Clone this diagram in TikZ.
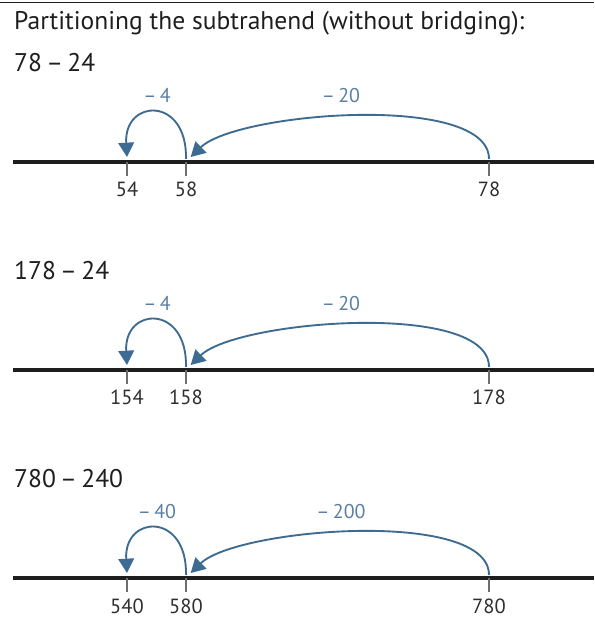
\documentclass[tikz,border=0pt]{standalone}
\usepackage{fontspec}
\setmainfont{PT Sans}
\usetikzlibrary{arrows.meta}
\definecolor{ink}{HTML}{1E1E1E}
\definecolor{jumpblue}{HTML}{3D6B91}
\definecolor{jumptext}{HTML}{5A7FA2}
\definecolor{tickgray}{HTML}{6E6E6E}
\definecolor{numgray}{HTML}{2E2E2E}

\begin{document}
\begin{tikzpicture}[
  numberline/.style={draw=ink,line width=2.7pt},
  tickmark/.style={draw=tickgray,line width=1.1pt},
  jump/.style={draw=jumpblue,line width=1.6pt,
               -{Triangle[length=4.3mm,width=4.7mm]}},
  jumplabel/.style={font=\fontsize{17}{19}\selectfont,text=jumptext,
                    anchor=base,inner sep=0pt},
  ticklabel/.style={font=\fontsize{17.5}{19}\selectfont,text=numgray,
                    anchor=base,inner sep=0pt},
  heading/.style={font=\fontsize{21.8}{25}\selectfont,text=ink,
                  anchor=base west,inner sep=0pt}
]
\useasboundingbox (0,0) rectangle (17.82,18.63);

% Top rule and title.
\coordinate (ruleL) at (0,18.57);
\coordinate (ruleR) at (17.82,18.57);
\draw[ink,line width=0.8pt] (ruleL) -- (ruleR);
\node[heading] (title) at (0.42,17.73)
  {Partitioning the subtrahend (without bridging):};

% -------------------------------------------------------------------------
% 78 - 24
\node[heading] (ahead) at (0.42,16.47) {78\,–\,24};

\coordinate (aL) at (0.39,13.77);
\coordinate (aR) at (17.82,13.77);
\draw[numberline] (aL) -- (aR);

\coordinate (a54) at (3.81,13.77);
\coordinate (a58) at (5.58,13.77);
\coordinate (a78) at (14.67,13.77);
\draw[tickmark] (a54) -- ++(0,-0.42) (a58) -- ++(0,-0.42) (a78) -- ++(0,-0.42);
\node[ticklabel] (l54) at (3.81,12.72) {54};
\node[ticklabel] (l58) at (5.58,12.72) {58};
\node[ticklabel] (l78) at (14.67,12.72) {78};

\draw[jump] ([yshift=0.09cm]a78) .. controls +(0,2.0) and +(1.4,1.35)
  .. ([xshift=0.14cm,yshift=0.15cm]a58);
\draw[jump] ([yshift=0.09cm]a58) .. controls +(0.04,1.9) and +(-0.1,1.75)
  .. ([yshift=0.15cm]a54);
\node[jumplabel] (aj4) at (4.71,15.54) {–\,4};
\node[jumplabel] (aj20) at (10.23,15.54) {–\,20};

% -------------------------------------------------------------------------
% 178 - 24
\node[heading] (bhead) at (0.42,10.23) {178\,–\,24};

\coordinate (bL) at (0.39,7.53);
\coordinate (bR) at (17.82,7.53);
\draw[numberline] (bL) -- (bR);

\coordinate (b154) at (3.81,7.53);
\coordinate (b158) at (5.58,7.53);
\coordinate (b178) at (14.67,7.53);
\draw[tickmark] (b154) -- ++(0,-0.42) (b158) -- ++(0,-0.42) (b178) -- ++(0,-0.42);
\node[ticklabel] (l154) at (3.81,6.48) {154};
\node[ticklabel] (l158) at (5.58,6.48) {158};
\node[ticklabel] (l178) at (14.67,6.48) {178};

\draw[jump] ([yshift=0.09cm]b178) .. controls +(0,2.0) and +(1.4,1.35)
  .. ([xshift=0.14cm,yshift=0.15cm]b158);
\draw[jump] ([yshift=0.09cm]b158) .. controls +(0.04,1.9) and +(-0.1,1.75)
  .. ([yshift=0.15cm]b154);
\node[jumplabel] (bj4) at (4.71,9.30) {–\,4};
\node[jumplabel] (bj20) at (10.23,9.30) {–\,20};

% -------------------------------------------------------------------------
% 780 - 240
\node[heading] (chead) at (0.42,3.99) {780\,–\,240};

\coordinate (cL) at (0.39,1.29);
\coordinate (cR) at (17.82,1.29);
\draw[numberline] (cL) -- (cR);

\coordinate (c540) at (3.81,1.29);
\coordinate (c580) at (5.58,1.29);
\coordinate (c780) at (14.67,1.29);
\draw[tickmark] (c540) -- ++(0,-0.42) (c580) -- ++(0,-0.42) (c780) -- ++(0,-0.42);
\node[ticklabel] (l540) at (3.81,0.24) {540};
\node[ticklabel] (l580) at (5.58,0.24) {580};
\node[ticklabel] (l780) at (14.67,0.24) {780};

\draw[jump] ([yshift=0.09cm]c780) .. controls +(0,2.0) and +(1.4,1.35)
  .. ([xshift=0.14cm,yshift=0.15cm]c580);
\draw[jump] ([yshift=0.09cm]c580) .. controls +(0.04,1.9) and +(-0.1,1.75)
  .. ([yshift=0.15cm]c540);
\node[jumplabel] (cj40) at (4.71,3.06) {–\,40};
\node[jumplabel] (cj200) at (10.23,3.06) {–\,200};

\end{tikzpicture}
\end{document}
